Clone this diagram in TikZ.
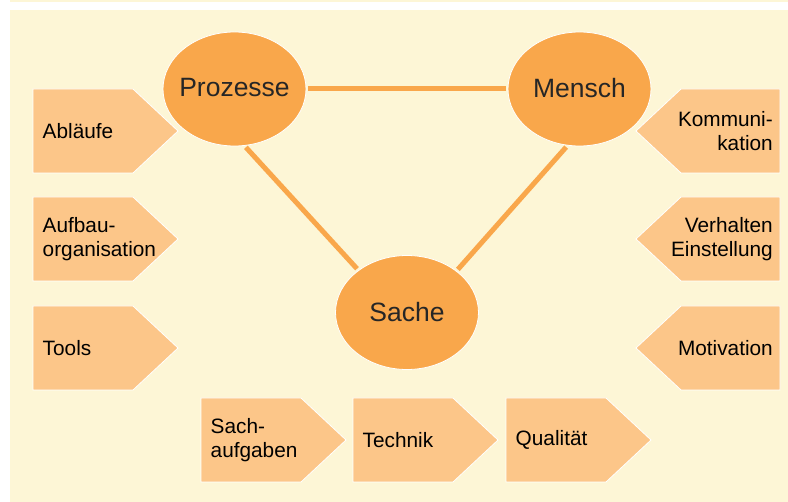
\documentclass[tikz,border=0pt]{standalone}
\usepackage{fontspec}
\setmainfont{Liberation Sans}
\usetikzlibrary{shapes.geometric}

\definecolor{hinter}{RGB}{253,246,214}
\definecolor{kreisfarbe}{RGB}{249,167,75}
\definecolor{feldfarbe}{RGB}{252,198,137}

\tikzset{
  kreis/.style={ellipse, fill=kreisfarbe, draw=white, line width=0.8pt,
    minimum width=143pt, minimum height=114pt, inner xsep=-10pt, inner ysep=0pt,
    text=black!85, font=\fontsize{26.5}{30}\selectfont},
  kante/.style={draw=kreisfarbe, line width=5pt, shorten <=2pt, shorten >=2pt},
  feld/.style={fill=feldfarbe, draw=white, line width=0.8pt},
  feldtext/.style={font=\fontsize{20.8}{24.6}\selectfont, inner sep=0pt},
}

\begin{document}
\begin{tikzpicture}[x=1pt,y=-1pt]
  \useasboundingbox (0,0) rectangle (788,502);

  %hintergrund
  \fill[hinter] (10,0) rectangle (788,2);
  \fill[hinter] (10,10) rectangle (788,502);

  %die drei kreise
  \node[kreis] (prozesse) at (234.5,89) {\raisebox{3pt}{Prozesse}};
  \node[kreis] (mensch) at (579.5,89) {\raisebox{3pt}{Mensch}};
  \node[kreis] (sache) at (407,312.5) {Sache};

  %dreieck zwischen den kreisen
  \draw[kante] (prozesse.east) -- (mensch.west);
  \draw[kante] (prozesse.-80) -- (sache.139);
  \draw[kante] (mensch.-102) -- (sache.40);

  %felder nach rechts
  \foreach \x/\y/\name/\txt in {33/89/ablaeufe/Abläufe,
      33/197/aufbau/{Aufbau-\\organisation}, 33/306/tools/Tools,
      201/398/sachaufgaben/{Sach-\\aufgaben}, 353/398/technik/Technik,
      506/398/qualitaet/Qualität}
  {
    \draw[feld] (\x,\y) -- ++(100,0) -- ++(45,42) -- ++(-45,42) -- ++(-100,0) -- cycle;
    \node[feldtext, align=left, anchor=west] (\name) at (\x+9.5,\y+42) {\txt};
  }

  %felder nach links
  \foreach \y/\name/\txt in {89/kommunikation/{Kommuni-\\kation},
      197/verhalten/{Verhalten\\Einstellung}, 306/motivation/Motivation}
  {
    \draw[feld] (780,\y) -- ++(-99,0) -- ++(-45,42) -- ++(45,42) -- ++(99,0) -- cycle;
    \node[feldtext, align=right, anchor=east] (\name) at (773,\y+42) {\txt};
  }
\end{tikzpicture}
\end{document}
